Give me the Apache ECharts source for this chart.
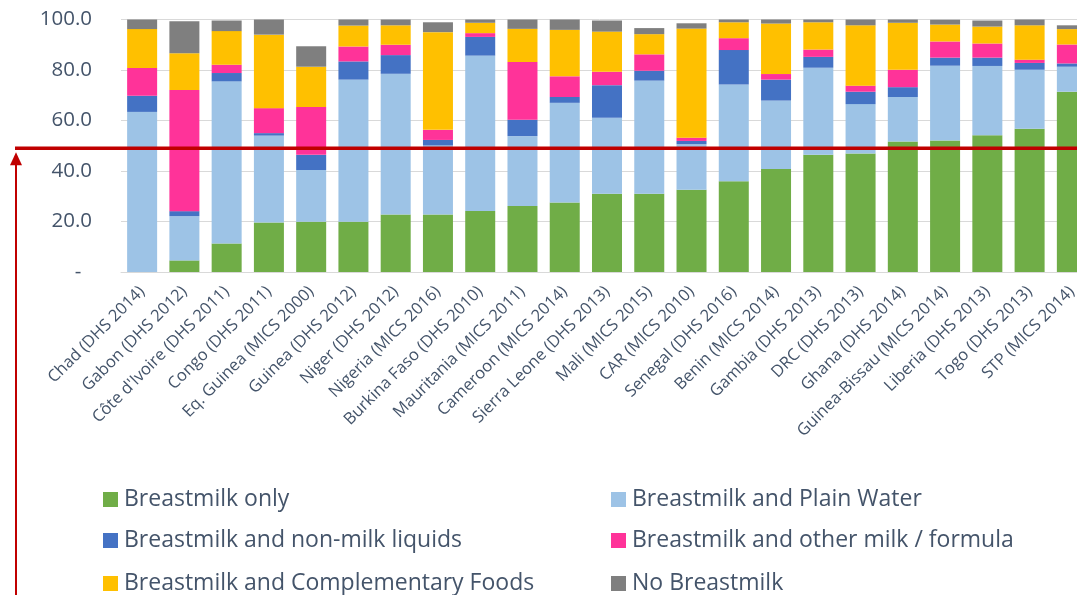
<!DOCTYPE html>
<html>
<head>
<meta charset="utf-8">
<script src="https://cdn.jsdelivr.net/npm/echarts@6/dist/echarts.min.js"></script>
<style>
html,body{margin:0;padding:0;background:#fff;}
#c{width:1077px;height:595px;}
</style>
</head>
<body>
<div id="c"></div>
<script>
const categories = ["Chad (DHS 2014)","Gabon (DHS 2012)","Côte d'Ivoire (DHS 2011)","Congo (DHS 2011)","Eq. Guinea (MICS 2000)","Guinea (DHS 2012)","Niger (DHS 2012)","Nigeria (MICS 2016)","Burkina Faso (DHS 2010)","Mauritania (MICS 2011)","Cameroon (MICS 2014)","Sierra Leone (DHS 2013)","Mali (MICS 2015)","CAR (MICS 2010)","Senegal (DHS 2016)","Benin (MICS 2014)","Gambia (DHS 2013)","DRC (DHS 2013)","Ghana (DHS 2014)","Guinea-Bissau (MICS 2014)","Liberia (DHS 2013)","Togo (DHS 2013)","STP (MICS 2014)"];
const breastmilkOnly      = [0.0, 4.6, 11.3, 19.6, 19.9, 19.9, 22.8, 22.8, 24.2, 26.1, 27.5, 31.0, 31.0, 32.6, 35.9, 40.8, 46.4, 46.9, 51.7, 52.1, 54.2, 56.7, 71.4];
const plainWater          = [63.4, 17.5, 64.2, 34.4, 20.5, 56.3, 55.7, 27.3, 61.5, 27.7, 39.5, 30.1, 44.8, 18.0, 38.4, 27.1, 34.5, 19.6, 17.6, 29.6, 27.4, 23.4, 9.9];
const nonMilkLiquids      = [6.4, 2.0, 3.3, 1.0, 6.0, 7.2, 7.4, 2.2, 7.4, 6.5, 2.3, 12.9, 3.9, 1.3, 13.6, 8.3, 4.3, 4.9, 3.9, 3.2, 3.3, 2.7, 1.3];
const otherMilk           = [11.0, 48.0, 3.3, 9.9, 18.9, 5.9, 4.1, 4.0, 1.5, 22.9, 8.2, 5.3, 6.5, 1.3, 4.7, 2.2, 2.9, 2.4, 6.9, 6.4, 5.6, 1.3, 7.5];
const complementaryFoods  = [15.4, 14.5, 13.3, 29.1, 16.0, 8.3, 7.7, 38.7, 4.1, 13.1, 18.4, 15.9, 8.0, 43.2, 6.3, 20.0, 10.8, 23.9, 18.6, 6.7, 6.7, 13.6, 6.1];
const noBreastmilk        = [3.8, 12.7, 4.2, 6.0, 8.1, 2.4, 2.3, 3.9, 1.3, 3.7, 4.1, 4.4, 2.4, 2.1, 1.1, 1.6, 1.1, 2.3, 1.3, 1.9, 2.4, 2.3, 1.5];
const seriesNames = ["Breastmilk only","Breastmilk and Plain Water","Breastmilk and non-milk liquids","Breastmilk and other milk / formula","Breastmilk and Complementary Foods","No Breastmilk"];
const seriesColors = ["#70AD47","#9DC3E6","#4472C4","#FF3399","#FFC000","#7F7F7F"];
const yTicks = [0, 20, 40, 60, 80, 100];
const yTickLabels = ["-", "20.0", "40.0", "60.0", "80.0", "100.0"];
const thresholdValue = 49;

const seriesData = [breastmilkOnly, plainWater, nonMilkLiquids, otherMilk, complementaryFoods, noBreastmilk];
const FONT = '"Open Sans", "Noto Sans", sans-serif';
const TXT = '#44546A';

const chart = echarts.init(document.getElementById('c'), null, {renderer: 'canvas'});

const legendPos = [
  {left: 103, top: 488}, {left: 611, top: 488},
  {left: 103, top: 529}, {left: 611, top: 529},
  {left: 103, top: 572}, {left: 611, top: 572}
];

const option = {
  animation: false,
  backgroundColor: '#fff',
  grid: {left: 121, width: 972, top: 19.5, bottom: 323, containLabel: false, outerBoundsMode: 'none'},
  legend: seriesNames.map((n, i) => ({
    data: [n], left: legendPos[i].left, top: legendPos[i].top,
    itemWidth: 15, itemHeight: 15, itemGap: 0, icon: 'rect',
    textStyle: {fontFamily: FONT, fontSize: 23, color: TXT, padding: [0, 0, 0, 1]},
    padding: 0, selectedMode: false
  })),
  xAxis: {
    type: 'category', data: categories,
    axisLine: {show: true, lineStyle: {color: '#D9D9D9', width: 1}},
    axisTick: {show: false},
    axisLabel: {rotate: 45, interval: 0, margin: 17, fontFamily: FONT, fontSize: 16.5, color: TXT}
  },
  yAxis: {
    type: 'value', min: 0, max: 100, interval: 20,
    axisLine: {show: false}, axisTick: {show: false},
    splitLine: {lineStyle: {color: '#D9D9D9', width: 1}},
    axisLabel: {
      margin: 29, fontFamily: FONT, fontSize: 20.5, color: TXT,
      formatter: v => yTickLabels[yTicks.indexOf(v)] + (v === 0 ? '  ' : '')
    }
  },
  series: seriesData.map((d, i) => ({
    name: seriesNames[i], type: 'bar', stack: 'total', data: d,
    barCategoryGap: '29%',
    itemStyle: {color: seriesColors[i]},
    emphasis: {disabled: true}
  }))
};
chart.setOption(option);

const yLine = chart.convertToPixel({yAxisIndex: 0}, thresholdValue);
const arrowX = 16;
chart.setOption({
  graphic: [
    {type: 'line', shape: {x1: arrowX - 1, y1: yLine, x2: 1077, y2: yLine}, style: {stroke: '#C00000', lineWidth: 3.5}, z: 100},
    {type: 'line', shape: {x1: arrowX, y1: yLine + 14, x2: arrowX, y2: 595}, style: {stroke: '#C00000', lineWidth: 2}, z: 100},
    {type: 'polygon', shape: {points: [[arrowX, yLine + 4], [arrowX - 6, yLine + 17], [arrowX + 6, yLine + 17]]}, style: {fill: '#C00000'}, z: 100}
  ]
});
</script>
</body>
</html>
